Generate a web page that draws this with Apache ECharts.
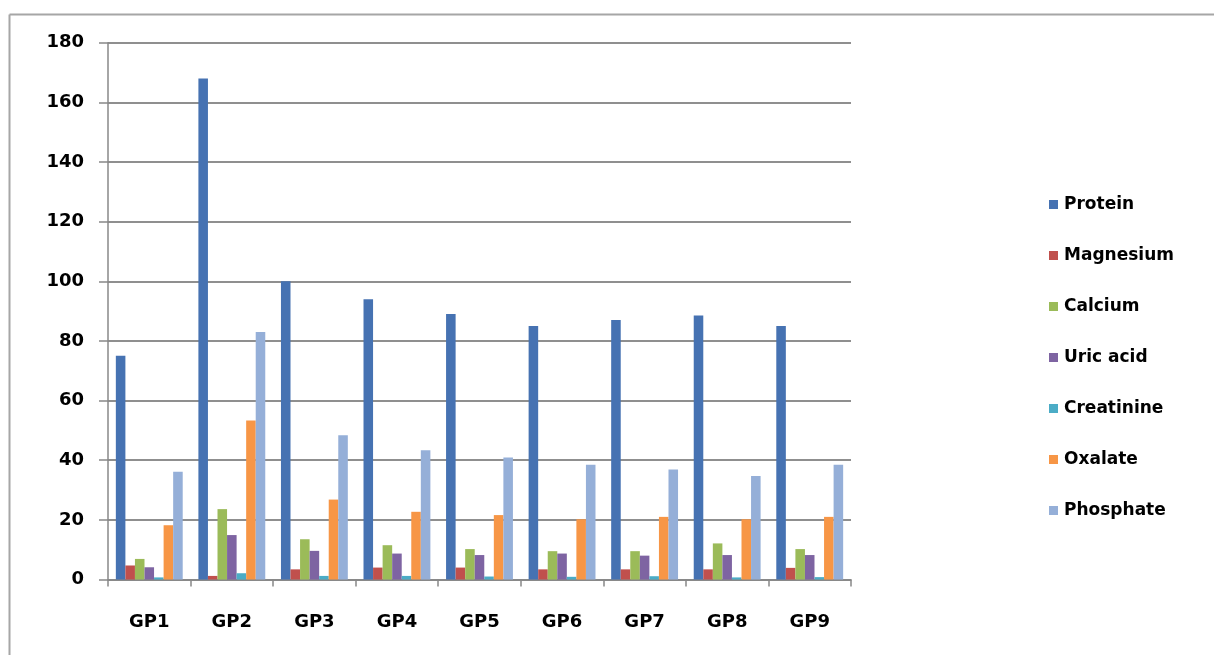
<!DOCTYPE html>
<html>
<head>
<meta charset="utf-8">
<script src="https://cdn.jsdelivr.net/npm/echarts@6/dist/echarts.min.js"></script>
<style>
  html, body { margin: 0; padding: 0; background: #fff; overflow: hidden; }
  #chart { width: 1214px; height: 655px; }
</style>
</head>
<body>
<div id="chart"></div>
<script>
// Urine constituents per group
const categories = ['GP1', 'GP2', 'GP3', 'GP4', 'GP5', 'GP6', 'GP7', 'GP8', 'GP9'];
const seriesNames = ['Protein', 'Magnesium', 'Calcium', 'Uric acid', 'Creatinine', 'Oxalate', 'Phosphate'];
const protein    = [75, 168, 100, 94, 89, 85, 87, 88.5, 85];
const magnesium  = [4.7, 1.2, 3.4, 4.0, 4.0, 3.4, 3.4, 3.4, 3.9];
const calcium    = [6.9, 23.6, 13.5, 11.5, 10.2, 9.5, 9.5, 12.1, 10.2];
const uricAcid   = [4.1, 14.9, 9.6, 8.7, 8.2, 8.7, 8.0, 8.2, 8.2];
const creatinine = [0.7, 2.1, 1.2, 1.2, 1.0, 0.9, 1.1, 0.7, 0.8];
const oxalate    = [18.2, 53.3, 26.8, 22.7, 21.6, 20.2, 21.0, 20.2, 21.0];
const phosphate  = [36.1, 83, 48.4, 43.3, 40.9, 38.5, 36.9, 34.7, 38.5];
const yTicks = { min: 0, max: 180, interval: 20 };

const values = [protein, magnesium, calcium, uricAcid, creatinine, oxalate, phosphate];
const colors = ['#4672b2', '#c0504d', '#9bbb59', '#7e64a2', '#4bacc6', '#f79646', '#95afd8'];

const font = 'DejaVu Sans';
const chart = echarts.init(document.getElementById('chart'), null, { renderer: 'canvas' });

// Chart-area frame: only the top and left edges fall inside the canvas
const frameStyle = { stroke: '#a6a6a6', lineWidth: 2 };

chart.setOption({
  animation: false,
  backgroundColor: '#ffffff',
  color: colors,
  graphic: [
    { type: 'line', silent: true, shape: { x1: 9.5, y1: 14.5, x2: 1214, y2: 14.5 }, style: frameStyle },
    { type: 'line', silent: true, shape: { x1: 9.5, y1: 14.5, x2: 9.5, y2: 655 }, style: frameStyle }
  ],
  grid: { left: 108, right: 363, top: 42.7, bottom: 75.5, containLabel: false },
  legend: {
    orient: 'vertical',
    left: 1044,
    top: 191,
    itemWidth: 9,
    itemHeight: 9,
    itemGap: 34,
    icon: 'rect',
    data: seriesNames,
    textStyle: { fontFamily: font, fontWeight: 'bold', fontSize: 17, color: '#000', padding: [0, 0, 0, 1] }
  },
  xAxis: {
    type: 'category',
    data: categories,
    axisLine: { lineStyle: { color: '#888', width: 1.5 } },
    axisTick: { show: true, length: 7, lineStyle: { color: '#888', width: 1.5 } },
    axisLabel: { margin: 34, fontFamily: font, fontWeight: 'bold', fontSize: 18, color: '#000' },
    splitLine: { show: false }
  },
  yAxis: {
    type: 'value',
    min: yTicks.min,
    max: yTicks.max,
    interval: yTicks.interval,
    axisLine: { show: true, lineStyle: { color: '#888', width: 1.5 } },
    axisTick: { show: true, length: 9, lineStyle: { color: '#888', width: 1.5 } },
    axisLabel: { margin: 24, fontFamily: font, fontWeight: 'bold', fontSize: 18, color: '#000' },
    splitLine: { lineStyle: { color: '#8f8f8f', width: 2 } }
  },
  series: seriesNames.map((name, i) => ({
    name: name,
    type: 'bar',
    data: values[i],
    barGap: '0%',
    barCategoryGap: '19%',
    itemStyle: { color: colors[i] }
  }))
});
</script>
</body>
</html>
